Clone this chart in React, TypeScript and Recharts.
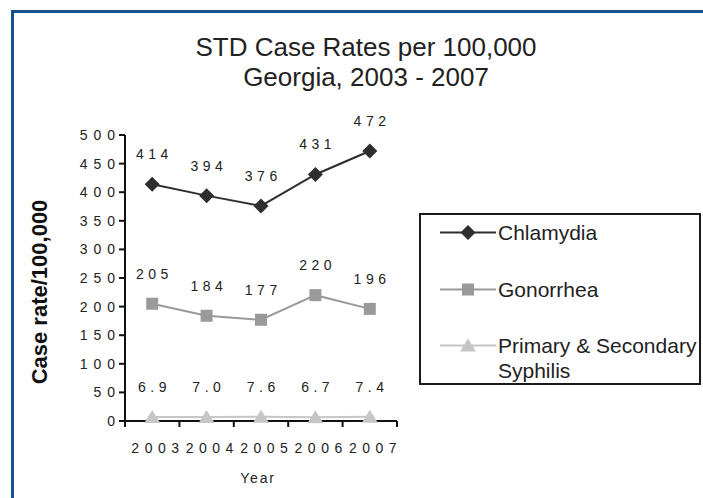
import { LineChart, Line, XAxis, YAxis, Legend, LabelList } from "recharts";

const years = ["2003", "2004", "2005", "2006", "2007"];
const chlamydia = [414, 394, 376, 431, 472];
const gonorrhea = [205, 184, 177, 220, 196];
const syphilis = [6.9, 7.0, 7.6, 6.7, 7.4];
const yTicks = [0, 50, 100, 150, 200, 250, 300, 350, 400, 450, 500];

const series = [
  { key: "chlamydia", name: "Chlamydia", color: "#2e2e2e", marker: "diamond", digits: 0 },
  { key: "gonorrhea", name: "Gonorrhea", color: "#9a9a9a", marker: "square", digits: 0 },
  { key: "syphilis", name: "Primary & Secondary Syphilis", color: "#c6c6c6", marker: "triangle", digits: 1 },
];

// built from the arrays above; pos puts each year in the middle of its slot
const data = years.map((year, i) => ({
  year,
  pos: i + 0.5,
  chlamydia: chlamydia[i],
  gonorrhea: gonorrhea[i],
  syphilis: syphilis[i],
}));

const W = 703;
const H = 498;
const PLOT_LEFT = 125;
const PLOT_RIGHT = 397;
const PLOT_TOP = 135;
const PLOT_BOTTOM = 421;
const BAND = (PLOT_RIGHT - PLOT_LEFT) / years.length;
const FONT = '"Liberation Sans", Arial, sans-serif';

function Marker({ type, cx, cy, color }: { type: string; cx: number; cy: number; color: string }) {
  if (type === "diamond") {
    const r = 7.5;
    return <path d={`M${cx},${cy - r}L${cx + r},${cy}L${cx},${cy + r}L${cx - r},${cy}Z`} fill={color} />;
  }
  if (type === "square") {
    return <rect x={cx - 6} y={cy - 6} width={12} height={12} fill={color} />;
  }
  return <path d={`M${cx},${cy - 7}L${cx + 8},${cy + 6}L${cx - 8},${cy + 6}Z`} fill={color} />;
}

function XTick(props: any) {
  const { x, payload } = props;
  const v = payload.value;
  const sp = 5.5;
  return (
    <g>
      <line x1={x} x2={x} y1={PLOT_BOTTOM} y2={PLOT_BOTTOM + 6} stroke="#111" strokeWidth={2} />
      {v < years.length && (
        <text
          x={x + BAND / 2 + sp / 2 + 3}
          y={PLOT_BOTTOM + 32}
          textAnchor="middle"
          fontSize={14}
          letterSpacing={sp}
          fill="#222"
          fontFamily={FONT}
        >
          {years[v]}
        </text>
      )}
    </g>
  );
}

function YTick(props: any) {
  const { y, payload } = props;
  const sp = 6;
  return (
    <g>
      <line x1={PLOT_LEFT - 6} x2={PLOT_LEFT} y1={y} y2={y} stroke="#111" strokeWidth={2} />
      <text
        x={PLOT_LEFT - 10 + sp}
        y={y + 5}
        textAnchor="end"
        fontSize={14}
        letterSpacing={sp}
        fill="#222"
        fontFamily={FONT}
      >
        {payload.value}
      </text>
    </g>
  );
}

const makeLabel = (digits: number) => (props: any) => {
  const { x, y, value } = props;
  const sp = 4.5;
  return (
    <text
      x={x + sp / 2}
      y={y - 25}
      textAnchor="middle"
      fontSize={14}
      letterSpacing={sp}
      fill="#222"
      fontFamily={FONT}
    >
      {Number(value).toFixed(digits)}
    </text>
  );
};

function LegendBox(props: any) {
  const items = props.payload || [];
  return (
    <div
      style={{
        position: "relative",
        width: 282,
        height: 172,
        boxSizing: "border-box",
        border: "2px solid #1a1a1a",
        background: "#fff",
        fontFamily: FONT,
      }}
    >
      {items.map((item: any, i: number) => {
        const s = series.find((d) => d.key === item.dataKey) || series[i];
        return (
          <div
            key={s.key}
            style={{ position: "absolute", left: 19, top: 5 + i * 56.5, display: "flex", alignItems: "flex-start" }}
          >
            <svg width={56} height={25} style={{ flex: "none" }}>
              <line x1={0} x2={56} y1={12.5} y2={12.5} stroke={s.color} strokeWidth={2} />
              <Marker type={s.marker} cx={28} cy={12.5} color={s.color} />
            </svg>
            <div style={{ width: 200, fontSize: 21, lineHeight: "25px", color: "#222", marginLeft: 2 }}>
              {s.name === "Primary & Secondary Syphilis" ? (
                <>
                  Primary &amp; Secondary
                  <br />
                  Syphilis
                </>
              ) : (
                s.name
              )}
            </div>
          </div>
        );
      })}
    </div>
  );
}

export default function App() {
  return (
    <div
      style={{
        position: "absolute",
        left: 0,
        top: 0,
        width: W,
        height: H,
        overflow: "hidden",
        background: "#fff",
        fontFamily: FONT,
      }}
    >
      {/* blue frame */}
      <div
        style={{
          position: "absolute",
          left: 11,
          top: 10,
          width: 900,
          height: 700,
          borderLeft: "3px solid #17528f",
          borderTop: "3px solid #17528f",
        }}
      />
      <div
        style={{
          position: "absolute",
          left: 0,
          top: 32,
          width: 732,
          textAlign: "center",
          fontSize: 26,
          lineHeight: "30px",
          color: "#222",
        }}
      >
        STD Case Rates per 100,000
        <br />
        Georgia, 2003 - 2007
      </div>
      <div
        style={{
          position: "absolute",
          left: 40,
          top: 292,
          transform: "translate(-50%, -50%) rotate(-90deg)",
          whiteSpace: "nowrap",
          fontSize: 22,
          fontWeight: "bold",
          color: "#111",
        }}
      >
        Case rate/100,000
      </div>
      <div
        style={{
          position: "absolute",
          left: 258,
          top: 478,
          transform: "translate(-50%, -50%)",
          fontSize: 14,
          letterSpacing: 1.8,
          color: "#222",
        }}
      >
        Year
      </div>
      <div style={{ position: "absolute", left: 0, top: 0 }}>
        <LineChart
          width={W}
          height={H}
          data={data}
          margin={{ top: PLOT_TOP, right: W - PLOT_RIGHT, bottom: H - PLOT_BOTTOM - 30, left: PLOT_LEFT - 60 }}
        >
          <XAxis
            type="number"
            dataKey="pos"
            domain={[0, years.length]}
            ticks={[0, 1, 2, 3, 4, 5]}
            interval={0}
            height={30}
            tickLine={false}
            axisLine={{ stroke: "#111", strokeWidth: 2 }}
            tick={<XTick />}
          />
          <YAxis
            domain={[0, 500]}
            ticks={yTicks}
            interval={0}
            width={60}
            tickLine={false}
            axisLine={{ stroke: "#111", strokeWidth: 2 }}
            tick={<YTick />}
          />
          <Legend
            layout="vertical"
            align="center"
            verticalAlign="middle"
            content={<LegendBox />}
            wrapperStyle={{ position: "absolute", left: 419, top: 213, width: 282, height: 172 }}
          />
          {series.map((s) => (
            <Line
              key={s.key}
              dataKey={s.key}
              name={s.name}
              type="linear"
              stroke={s.color}
              strokeWidth={2}
              isAnimationActive={false}
              dot={(p: any) => <Marker key={`${s.key}-${p.index}`} type={s.marker} cx={p.cx} cy={p.cy} color={s.color} />}
              activeDot={false}
            >
              <LabelList dataKey={s.key} content={makeLabel(s.digits)} />
            </Line>
          ))}
        </LineChart>
      </div>
    </div>
  );
}
